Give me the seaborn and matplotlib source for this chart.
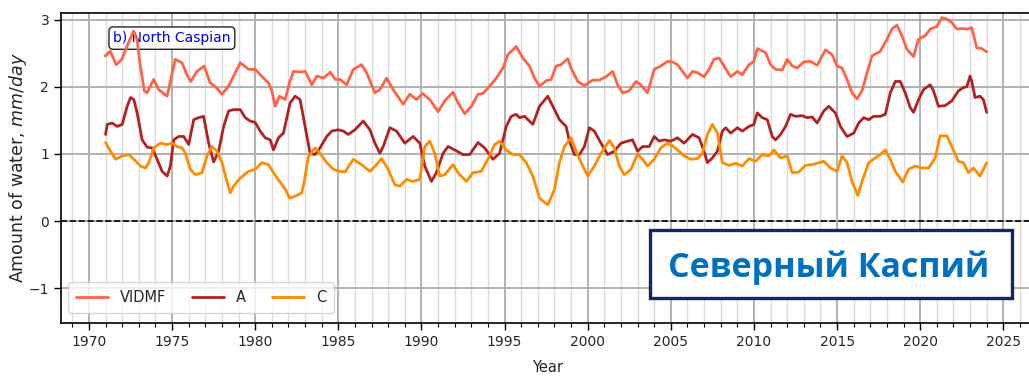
import numpy as np
import pandas as pd
import seaborn as sns
import matplotlib
matplotlib.use("Agg")
import matplotlib.pyplot as plt
from matplotlib.ticker import MultipleLocator
from matplotlib.patches import Rectangle

# ---- data: vertically integrated moisture flux and its components, North Caspian ----
vidmf_years = [1970.98, 1971.28, 1971.64, 1971.98, 1972.38, 1972.69, 1972.89, 1973.09, 1973.33, 1973.49,
               1973.89, 1974.19, 1974.69, 1974.79, 1975.19, 1975.59, 1975.89, 1976.13, 1976.49, 1976.93,
               1977.29, 1977.66, 1978.00, 1978.40, 1978.70, 1979.10, 1979.60, 1980.00, 1980.50, 1980.80,
               1981.00, 1981.20, 1981.46, 1981.80, 1982.06, 1982.30, 1982.71, 1983.01, 1983.41, 1983.71,
               1984.11, 1984.51, 1984.81, 1985.1, 1985.5, 1985.9, 1986.4, 1986.7, 1987.2, 1987.5,
               1987.9, 1988.3, 1988.9, 1989.3, 1989.7, 1990.07, 1990.5, 1991.0, 1991.4, 1991.9,
               1992.2, 1992.6, 1993.0, 1993.4, 1993.7, 1994.1, 1994.5, 1994.9, 1995.2, 1995.7,
               1996.1, 1996.5, 1996.8, 1997.1, 1997.5, 1997.8, 1998.1, 1998.4, 1998.8, 1999.0,
               1999.4, 1999.8, 2000.3, 2000.7, 2001.1, 2001.5, 2001.8, 2002.1, 2002.5, 2002.9,
               2003.2, 2003.6, 2004.0, 2004.4, 2004.8, 2005.1, 2005.4, 2005.7, 2006.0, 2006.3,
               2006.6, 2007.0, 2007.3, 2007.6, 2007.9, 2008.2, 2008.6, 2009.0, 2009.3, 2009.7,
               2010.0, 2010.2, 2010.7, 2011.0, 2011.3, 2011.7, 2012.0, 2012.3, 2012.6, 2013.0,
               2013.4, 2013.8, 2014.1, 2014.3, 2014.7, 2015.0, 2015.3, 2015.6, 2015.9, 2016.2,
               2016.5, 2016.8, 2017.1, 2017.6, 2018.0, 2018.3, 2018.6, 2018.9, 2019.2, 2019.6,
               2019.9, 2020.3, 2020.6, 2021.0, 2021.3, 2021.6, 2021.9, 2022.2, 2022.5, 2022.8,
               2023.1, 2023.4, 2023.7, 2024.0]
vidmf_values = [2.46, 2.53, 2.33, 2.41, 2.66, 2.83, 2.71, 2.31, 1.94, 1.91,
                2.11, 1.96, 1.86, 1.96, 2.41, 2.36, 2.18, 2.08, 2.23, 2.31,
                2.06, 1.99, 1.89, 2.01, 2.16, 2.36, 2.26, 2.26, 2.13, 2.06,
                1.94, 1.71, 1.86, 1.81, 2.06, 2.23, 2.22, 2.23, 2.03, 2.16,
                2.13, 2.22, 2.11, 2.11, 2.03, 2.26, 2.33, 2.21, 1.91, 1.96,
                2.13, 1.96, 1.74, 1.89, 1.81, 1.90, 1.81, 1.63, 1.79, 1.92,
                1.76, 1.60, 1.71, 1.89, 1.90, 2.01, 2.13, 2.28, 2.48, 2.60,
                2.43, 2.31, 2.13, 2.01, 2.09, 2.11, 2.31, 2.33, 2.42, 2.28,
                2.08, 2.02, 2.10, 2.10, 2.15, 2.23, 2.03, 1.91, 1.94, 2.08,
                2.03, 1.91, 2.26, 2.31, 2.38, 2.37, 2.33, 2.23, 2.13, 2.23,
                2.21, 2.15, 2.26, 2.41, 2.43, 2.31, 2.15, 2.23, 2.18, 2.33,
                2.38, 2.57, 2.51, 2.33, 2.26, 2.25, 2.41, 2.31, 2.28, 2.37,
                2.38, 2.32, 2.46, 2.55, 2.48, 2.31, 2.28, 2.11, 1.91, 1.82,
                1.94, 2.21, 2.46, 2.53, 2.71, 2.86, 2.92, 2.76, 2.56, 2.45,
                2.71, 2.76, 2.86, 2.90, 3.03, 3.01, 2.96, 2.86, 2.87, 2.86,
                2.88, 2.58, 2.57, 2.52]

a_years = [1971.0, 1971.1, 1971.4, 1971.7, 1972.0, 1972.3, 1972.5, 1972.7, 1972.9, 1973.2,
           1973.5, 1973.8, 1974.1, 1974.4, 1974.7, 1974.9, 1975.1, 1975.4, 1975.7, 1976.0,
           1976.3, 1976.6, 1976.9, 1977.2, 1977.5, 1977.8, 1978.1, 1978.4, 1978.7, 1979.1,
           1979.4, 1979.7, 1980.0, 1980.3, 1980.6, 1980.9, 1981.1, 1981.4, 1981.7, 1982.1,
           1982.4, 1982.7, 1983.0, 1983.3, 1983.6, 1983.9, 1984.3, 1984.6, 1985.0, 1985.3,
           1985.6, 1986.0, 1986.5, 1986.9, 1987.2, 1987.5, 1987.7, 1988.1, 1988.5, 1989.0,
           1989.5, 1989.9, 1990.2, 1990.6, 1990.9, 1991.3, 1991.6, 1992.0, 1992.5, 1992.9,
           1993.4, 1993.8, 1994.3, 1994.7, 1995.1, 1995.4, 1995.7, 1995.9, 1996.2, 1996.7,
           1997.1, 1997.6, 1997.9, 1998.3, 1998.7, 1998.9, 1999.2, 1999.5, 1999.8, 2000.1,
           2000.4, 2000.8, 2001.2, 2001.6, 2002.0, 2002.4, 2002.7, 2003.0, 2003.3, 2003.7,
           2004.0, 2004.3, 2004.6, 2005.0, 2005.4, 2005.8, 2006.3, 2006.7, 2007.0, 2007.2,
           2007.5, 2007.8, 2008.1, 2008.3, 2008.6, 2009.0, 2009.3, 2009.7, 2010.0, 2010.2,
           2010.5, 2010.8, 2011.1, 2011.3, 2011.6, 2011.9, 2012.2, 2012.5, 2012.9, 2013.2,
           2013.5, 2013.8, 2014.2, 2014.5, 2014.9, 2015.2, 2015.6, 2016.0, 2016.3, 2016.6,
           2016.9, 2017.2, 2017.6, 2017.9, 2018.2, 2018.5, 2018.8, 2019.1, 2019.4, 2019.6,
           2019.9, 2020.2, 2020.6, 2020.8, 2021.1, 2021.5, 2021.9, 2022.3, 2022.6, 2022.8,
           2023.0, 2023.1, 2023.3, 2023.6, 2023.8, 2024.0]
a_values = [1.29, 1.44, 1.46, 1.41, 1.44, 1.71, 1.84, 1.81, 1.61, 1.21,
            1.10, 1.09, 0.92, 0.74, 0.67, 0.82, 1.21, 1.26, 1.26, 1.14,
            1.51, 1.54, 1.56, 1.16, 0.88, 1.04, 1.41, 1.64, 1.66, 1.66,
            1.54, 1.49, 1.47, 1.34, 1.24, 1.21, 1.06, 1.24, 1.31, 1.76,
            1.86, 1.81, 1.41, 1.01, 0.99, 1.09, 1.26, 1.34, 1.36, 1.34,
            1.29, 1.36, 1.49, 1.36, 1.16, 1.01, 1.11, 1.39, 1.34, 1.16,
            1.26, 1.16, 0.82, 0.59, 0.72, 1.01, 1.11, 1.06, 0.99, 0.99,
            1.17, 1.09, 0.92, 1.01, 1.41, 1.56, 1.59, 1.54, 1.56, 1.44,
            1.71, 1.86, 1.71, 1.51, 1.41, 1.19, 0.99, 0.99, 1.11, 1.39,
            1.34, 1.16, 0.99, 1.04, 1.16, 1.19, 1.21, 1.04, 1.11, 1.11,
            1.26, 1.19, 1.21, 1.19, 1.24, 1.16, 1.29, 1.24, 1.04, 0.87,
            0.94, 1.04, 1.34, 1.39, 1.31, 1.39, 1.34, 1.41, 1.44, 1.61,
            1.54, 1.51, 1.26, 1.21, 1.29, 1.41, 1.59, 1.56, 1.57, 1.54,
            1.55, 1.46, 1.64, 1.71, 1.61, 1.41, 1.26, 1.31, 1.46, 1.54,
            1.51, 1.56, 1.56, 1.59, 1.91, 2.08, 2.08, 1.91, 1.69, 1.62,
            1.81, 1.96, 2.03, 1.94, 1.71, 1.72, 1.79, 1.94, 1.99, 2.00,
            2.16, 2.08, 1.84, 1.86, 1.81, 1.62]

c_years = [1971.0, 1971.3, 1971.6, 1972.0, 1972.4, 1972.7, 1973.1, 1973.4, 1973.6, 1973.9,
           1974.3, 1974.7, 1975.0, 1975.3, 1975.6, 1975.8, 1976.1, 1976.4, 1976.8, 1977.1,
           1977.4, 1977.7, 1978.0, 1978.3, 1978.5, 1978.7, 1979.1, 1979.6, 1980.0, 1980.4,
           1980.8, 1981.1, 1981.4, 1981.8, 1982.07, 1982.5, 1982.8, 1982.95, 1983.2, 1983.6,
           1983.9, 1984.3, 1984.7, 1985.1, 1985.4, 1985.9, 1986.4, 1986.9, 1987.3, 1987.6,
           1988.0, 1988.4, 1988.7, 1989.1, 1989.5, 1989.9, 1990.2, 1990.5, 1990.8, 1991.1,
           1991.4, 1991.9, 1992.2, 1992.7, 1993.1, 1993.6, 1994.0, 1994.4, 1994.7, 1995.1,
           1995.5, 1995.9, 1996.3, 1996.7, 1997.1, 1997.6, 1998.0, 1998.3, 1998.6, 1999.0,
           1999.3, 1999.7, 2000.0, 2000.4, 2000.8, 2001.3, 2001.6, 2001.9, 2002.2, 2002.6,
           2003.0, 2003.3, 2003.6, 2004.0, 2004.4, 2004.8, 2005.1, 2005.4, 2005.8, 2006.2,
           2006.6, 2006.9, 2007.2, 2007.5, 2007.8, 2008.1, 2008.5, 2008.9, 2009.3, 2009.7,
           2010.1, 2010.5, 2010.9, 2011.2, 2011.6, 2012.0, 2012.3, 2012.7, 2013.1, 2013.5,
           2013.9, 2014.2, 2014.6, 2015.0, 2015.3, 2015.6, 2015.9, 2016.25, 2016.5, 2016.9,
           2017.3, 2017.6, 2017.9, 2018.2, 2018.5, 2018.95, 2019.3, 2019.7, 2020.1, 2020.5,
           2020.9, 2021.2, 2021.6, 2021.9, 2022.3, 2022.6, 2022.9, 2023.2, 2023.6, 2024.0]
c_values = [1.17, 1.04, 0.92, 0.97, 0.99, 0.92, 0.82, 0.79, 0.87, 1.09,
            1.16, 1.14, 1.16, 1.11, 1.09, 1.01, 0.77, 0.69, 0.72, 0.97,
            1.11, 1.04, 0.87, 0.59, 0.42, 0.52, 0.64, 0.74, 0.77, 0.87,
            0.84, 0.72, 0.61, 0.48, 0.34, 0.38, 0.42, 0.59, 0.96, 1.09,
            1.01, 0.87, 0.77, 0.74, 0.73, 0.92, 0.84, 0.74, 0.84, 0.93,
            0.77, 0.54, 0.52, 0.62, 0.59, 0.62, 1.11, 1.19, 1.01, 0.67,
            0.69, 0.84, 0.72, 0.59, 0.72, 0.74, 0.92, 1.14, 1.19, 1.06,
            0.99, 0.99, 0.87, 0.67, 0.34, 0.24, 0.47, 0.87, 1.11, 1.24,
            1.04, 0.82, 0.67, 0.82, 1.01, 1.20, 1.09, 0.82, 0.69, 0.77,
            1.00, 0.92, 0.82, 0.92, 1.09, 1.16, 1.12, 1.06, 0.97, 0.92,
            0.93, 1.01, 1.29, 1.44, 1.31, 0.87, 0.83, 0.86, 0.82, 0.93,
            0.89, 0.99, 0.97, 1.06, 0.94, 0.97, 0.72, 0.73, 0.83, 0.84,
            0.87, 0.89, 0.79, 0.74, 0.97, 0.87, 0.59, 0.38, 0.59, 0.87,
            0.94, 0.99, 1.06, 0.92, 0.74, 0.58, 0.77, 0.82, 0.79, 0.79,
            0.94, 1.27, 1.27, 1.11, 0.89, 0.87, 0.72, 0.79, 0.67, 0.87]

series_names = ["VIDMF", "A", "C"]
series_colors = ["#FF6347", "#B22222", "#FF8C00"]

df = pd.concat([
    pd.DataFrame({"Year": vidmf_years, "value": vidmf_values, "series": "VIDMF"}),
    pd.DataFrame({"Year": a_years, "value": a_values, "series": "A"}),
    pd.DataFrame({"Year": c_years, "value": c_values, "series": "C"}),
], ignore_index=True)

sns.set_style("ticks")
plt.rcParams["font.family"] = ["DejaVu Sans"]

fig = plt.figure(figsize=(10.29, 3.77), dpi=100)
ax = fig.add_axes([0.0593, 0.1432, 0.945, 0.8223])

sns.lineplot(data=df, x="Year", y="value", hue="series", hue_order=series_names,
             palette=dict(zip(series_names, series_colors)), linewidth=2,
             estimator=None, sort=False, ax=ax)
for ln in ax.get_lines():
    ln.set_solid_joinstyle("round")

ax.axhline(0, color="black", linestyle="--", linewidth=1.2, zorder=2.5)

ax.set_xlim(1968.32, 2026.81)
ax.set_ylim(-1.52, 3.1)
ax.xaxis.set_major_locator(MultipleLocator(5))
ax.xaxis.set_minor_locator(MultipleLocator(1))
ax.yaxis.set_major_locator(MultipleLocator(1))
ax.set_axisbelow(True)
ax.grid(which="major", color="#adadad", linewidth=1.3)
ax.grid(which="minor", axis="x", color="#dcdcdc", linewidth=1.0)
ax.tick_params(axis="both", which="major", labelsize=10, length=5, width=1, color="black")
ax.tick_params(axis="x", which="minor", length=3, width=0.8, color="black")
for side in ["left", "top", "bottom"]:
    ax.spines[side].set_color("black")
    ax.spines[side].set_linewidth(1.2)
ax.spines["right"].set_visible(False)

ax.set_xlabel("Year", fontsize=10.5, labelpad=8)
ax.set_ylabel("Amount of water, $mm/day$", fontsize=12.5, labelpad=0)

ax.legend(loc="lower left", bbox_to_anchor=(0.0072, 0.032), borderaxespad=0,
          ncol=3, fontsize=10.5, frameon=True, framealpha=0.8,
          borderpad=0.55, columnspacing=1.8, handlelength=2.2)

ax.text(0.114, 0.919, "b) North Caspian", transform=ax.transAxes, ha="center", va="center",
        fontsize=10, color="#0000EE", zorder=1.8,
        bbox=dict(boxstyle="round,pad=0.3", facecolor="white", edgecolor="#222222", linewidth=1.0))

# region caption in a framed panel
fig.add_artist(Rectangle((0.6317, 0.2096), 0.3518, 0.1804, transform=fig.transFigure,
                         facecolor="white", edgecolor="#0B2A6B", linewidth=2.4, zorder=5))
fig.text(0.8052, 0.2660, "Северный Каспий", ha="center", va="baseline",
         fontsize=24.5, fontweight="bold", color="#0070C0", family=["Open Sans", "DejaVu Sans"],
         zorder=6)

fig.savefig("out.png", dpi=100)
